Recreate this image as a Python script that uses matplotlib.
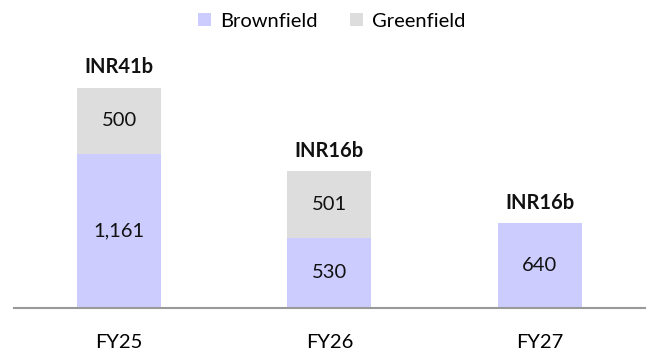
import matplotlib
matplotlib.use("Agg")
import matplotlib.pyplot as plt
import numpy as np

plt.rcParams['font.family'] = ['Lato', 'DejaVu Sans']

years = ["FY25", "FY26", "FY27"]
brownfield = [1161, 530, 640]
greenfield = [500, 501, 0]
totals = ["INR41b", "INR16b", "INR16b"]

c_brown = "#CCCCFF"
c_green = "#DDDDDD"
fs = 14.5

fig = plt.figure(figsize=(6.51, 3.56), dpi=100)
ax = fig.add_axes([0.0215, 0.1348, 0.969, 0.753])

x = np.arange(len(years))
w = 0.4
b1 = ax.bar(x, brownfield, w, color=c_brown, label="Brownfield")
b2 = ax.bar(x, greenfield, w, bottom=brownfield, color=c_green, label="Greenfield")

for i in range(len(years)):
    ax.text(x[i], brownfield[i] / 2, f"{brownfield[i]:,}", ha="center", va="center",
            fontsize=fs, color="#111111")
    if greenfield[i] > 0:
        ax.text(x[i], brownfield[i] + greenfield[i] / 2, f"{greenfield[i]:,}",
                ha="center", va="center", fontsize=fs, color="#111111")
    top = brownfield[i] + greenfield[i]
    ax.text(x[i], top + 110, totals[i], ha="center", va="baseline",
            fontsize=fs, fontweight="bold", color="#111111")

ax.set_xlim(-0.5, 2.5)
ax.set_ylim(0, 2021)
ax.set_xticks(x)
ax.set_xticklabels(years, fontsize=fs)
ax.tick_params(axis="x", length=0, pad=19)
ax.set_yticks([])
for s in ["top", "right", "left"]:
    ax.spines[s].set_visible(False)
ax.spines["bottom"].set_color("#999999")
ax.spines["bottom"].set_linewidth(1.5)

fig.legend(handles=[b1, b2], loc="upper center", bbox_to_anchor=(0.51, 1.015), ncol=2,
           frameon=False, fontsize=fs, handlelength=0.65, handleheight=0.65,
           handletextpad=0.45, columnspacing=1.6)

fig.savefig("out.png", dpi=100)
